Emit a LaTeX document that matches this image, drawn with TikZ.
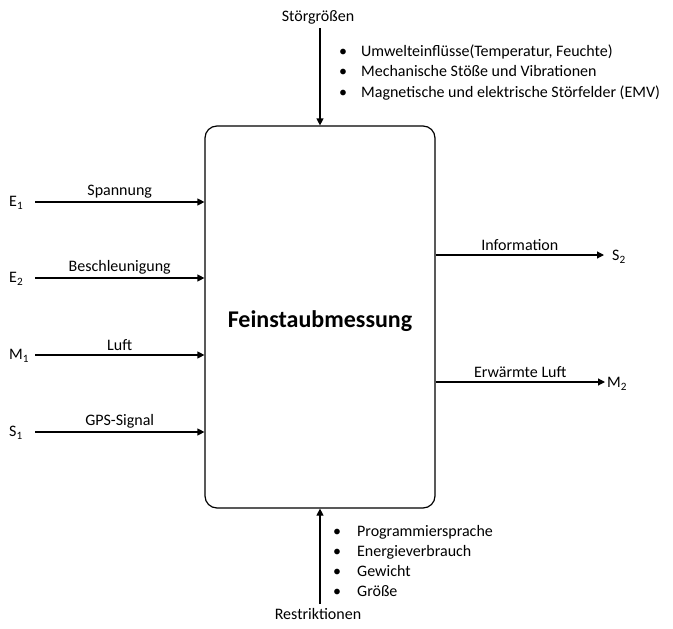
\documentclass[tikz,border=0pt]{standalone}
\usepackage{fontspec}
\setmainfont{Carlito}
\usetikzlibrary{arrows.meta}
\begin{document}
\begin{tikzpicture}[x=1pt,y=-1pt,
  lbl/.style={font=\fontsize{16}{18}\selectfont, inner sep=0pt},
  arr/.style={-{Triangle[length=7pt,width=7pt]}, line width=1.2pt},
  blist/.style={font=\fontsize{16}{20.5}\selectfont, inner sep=0pt, anchor=west, align=left}]
\useasboundingbox (0,0) rectangle (673,629);
\node[draw, line width=1.2pt, rounded corners=12pt, minimum width=230pt, minimum height=382pt, inner sep=0pt] (box) at (320,317) {};
\node[font=\fontsize{24}{28}\selectfont\bfseries] (title) at (320,321) {Feinstaubmessung};
% left inputs
\foreach \n/\y/\t/\s in {e1/202/Spannung/E\textsubscript{1}, e2/278/Beschleunigung/E\textsubscript{2}, m1/355/Luft/M\textsubscript{1}, s1/432/GPS-Signal/S\textsubscript{1}}{
  \coordinate (\n a) at (35,\y);
  \coordinate (\n b) at (box.west |- 0,\y);
  \node[lbl, anchor=west] (\n lab) at (9,\y+1) {\s};
  \draw[arr] (\n a) -- (\n b) node[lbl, midway, above=3.5pt] {\t};
}
% right outputs
\coordinate (s2a) at (box.east |- 0,255);
\node[lbl, anchor=west] (s2) at (612,257) {S\textsubscript{2}};
\coordinate (s2b) at (604,255);
\draw[arr] (s2a) -- (s2b) node[lbl, midway, above=3.5pt] {Information};
\coordinate (m2a) at (box.east |- 0,382);
\node[lbl, anchor=west] (m2) at (607,384) {M\textsubscript{2}};
\coordinate (m2b) at (605,382);
\draw[arr] (m2a) -- (m2b) node[lbl, midway, above=3.5pt] {Erwärmte Luft};
% top
\node[lbl] (stoer) at (318,17) {Störgrößen};
\coordinate (topa) at (320,28);
\draw[arr] (topa) -- (box.north);
\node[blist] (stl) at (339,72.5) {\textbullet\hspace{14pt}Umwelteinflüsse(Temperatur, Feuchte)\\\textbullet\hspace{14pt}Mechanische Stöße und Vibrationen\\\textbullet\hspace{14pt}Magnetische und elektrische Störfelder (EMV)};
% bottom
\node[lbl] (restr) at (318,614) {Restriktionen};
\coordinate (bota) at (320,604);
\draw[arr] (bota) -- (box.south);
\node[blist, font=\fontsize{16}{20}\selectfont] (rl) at (333,561.5) {\textbullet\hspace{16pt}Programmiersprache\\\textbullet\hspace{16pt}Energieverbrauch\\\textbullet\hspace{16pt}Gewicht\\\textbullet\hspace{16pt}Größe};
\end{tikzpicture}
\end{document}
